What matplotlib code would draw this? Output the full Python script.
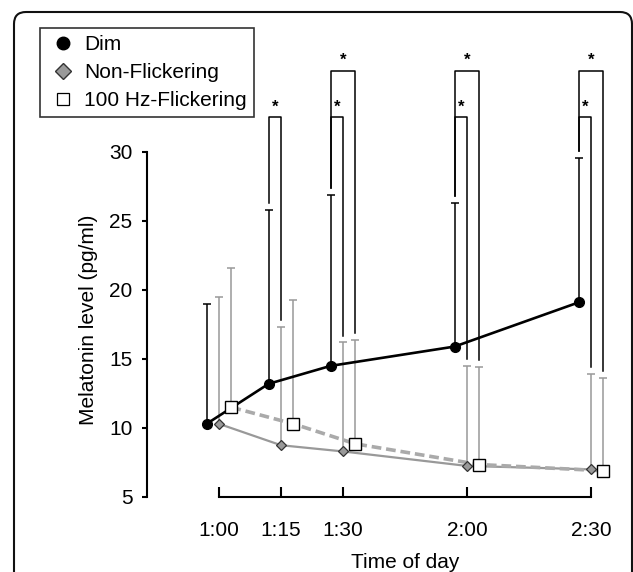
import numpy as np
import matplotlib.pyplot as plt
from matplotlib.lines import Line2D
from matplotlib.patches import FancyBboxPatch

plt.rcParams['font.family'] = ['Liberation Sans', 'DejaVu Sans']
plt.rcParams['lines.scale_dashes'] = False

# minutes after 1:00
times = [0, 15, 30, 60, 90]
time_labels = ['1:00', '1:15', '1:30', '2:00', '2:30']

dim = [10.3, 13.2, 14.5, 15.9, 19.1]
dim_err_top = [19.0, 25.8, 26.9, 26.3, 29.6]
nonflicker = [10.3, 8.75, 8.3, 7.25, 7.0]
nonflicker_err_top = [19.5, 17.3, 16.2, 14.5, 13.9]
flicker = [11.5, 10.3, 8.85, 7.35, 6.9]
flicker_err_top = [21.6, 19.3, 16.4, 14.4, 13.6]

# significance: Dim vs Non-Flickering (inner), Dim vs 100 Hz (outer)
sig_inner = [1, 2, 3, 4]
sig_outer = [2, 3, 4]
inner_level = 32.5
outer_level = 35.9

shift = 3  # horizontal offset of the groups (minutes)
t = np.array(times, dtype=float)
x_dim = t - shift
x_nf = t
x_hz = t + shift

fig = plt.figure(figsize=(6.33, 5.72), dpi=100)
ax = fig.add_axes([0.2154, 0.0829, 0.7705, 0.8444])

def upper_err(x, y, top, color, lw):
    y = np.array(y)
    top = np.array(top)
    ax.errorbar(x, y, yerr=[np.zeros_like(y), top - y], fmt='none',
                ecolor=color, elinewidth=lw, capsize=3, capthick=lw, zorder=1)

upper_err(x_dim, dim, dim_err_top, 'black', 1.1)
upper_err(x_nf, nonflicker, nonflicker_err_top, '#999999', 1.1)
upper_err(x_hz, flicker, flicker_err_top, '#999999', 1.1)

ax.plot(x_nf, nonflicker, color='#999999', lw=1.6, zorder=2)
ax.plot(x_hz, flicker, color='#aaaaaa', lw=2.6, dashes=(7, 3.5), zorder=3)
ax.plot(x_dim, dim, color='black', lw=1.9, zorder=4)

ax.plot(x_nf, nonflicker, ls='none', marker='D', ms=5.5, mfc='#999999',
        mec='#333333', mew=0.9, zorder=5)
ax.plot(x_dim, dim, ls='none', marker='o', ms=7, mfc='black', mec='black', zorder=5)
ax.plot(x_hz, flicker, ls='none', marker='s', ms=8, mfc='white',
        mec='black', mew=1.0, zorder=6)

# brackets
gap = 0.5
for i in sig_inner:
    x1, x2 = x_dim[i], x_nf[i]
    ax.plot([x1, x1, x2, x2],
            [dim_err_top[i] + gap, inner_level, inner_level, nonflicker_err_top[i] + gap],
            color='black', lw=1.1, zorder=1)
    ax.text((x1 + x2) / 2, inner_level + 0.75, '*', ha='center', va='center',
            fontsize=12, fontweight='bold')
for i in sig_outer:
    x1, x2 = x_dim[i], x_hz[i]
    ax.plot([x1, x1, x2, x2],
            [dim_err_top[i] + gap, outer_level, outer_level, flicker_err_top[i] + gap],
            color='black', lw=1.1, zorder=1)
    ax.text((x1 + x2) / 2, outer_level + 0.75, '*', ha='center', va='center',
            fontsize=12, fontweight='bold')

ax.set_xlim(-20, 98)
ax.set_ylim(3, 38)
for s in ['top', 'right']:
    ax.spines[s].set_visible(False)
ax.spines['left'].set_position(('data', -17.4))
ax.spines['left'].set_bounds(5, 30)
ax.spines['bottom'].set_position(('data', 5))
ax.spines['bottom'].set_bounds(0, 90)
for s in ['left', 'bottom']:
    ax.spines[s].set_linewidth(1.5)
ax.set_yticks([5, 10, 15, 20, 25, 30])
ax.set_xticks(times)
ax.set_xticklabels(time_labels)
ax.tick_params(axis='y', direction='out', length=3.6, width=1.5, pad=7, labelsize=15)
ax.tick_params(axis='x', direction='in', length=7.2, width=1.5, pad=17, labelsize=15)
ax.set_ylabel('Melatonin level (pg/ml)', fontsize=15)
ax.yaxis.set_label_coords(-0.078, 0.424)
ax.set_xlabel('Time of day', fontsize=15)
ax.xaxis.set_label_coords(0.551, -0.058)

handles = [
    Line2D([], [], ls='none', marker='o', ms=9, mfc='black', mec='black'),
    Line2D([], [], ls='none', marker='D', ms=8, mfc='#999999', mec='#333333', mew=1),
    Line2D([], [], ls='none', marker='s', ms=8.5, mfc='white', mec='black', mew=0.9),
]
leg = fig.legend(handles, ['Dim', 'Non-Flickering', '100 Hz-Flickering'],
                 loc='upper left', bbox_to_anchor=(40 / 633, 1 - 28 / 572),
                 fontsize=15, frameon=True, fancybox=False, edgecolor='black',
                 borderpad=0.35, labelspacing=0.42, handletextpad=0.25,
                 handlelength=1.5, borderaxespad=0)
leg.get_frame().set_linewidth(1.2)

border = FancyBboxPatch((0.14, -0.3), 6.18, 5.9, boxstyle='round,pad=0,rounding_size=0.12',
                        transform=fig.dpi_scale_trans, fill=False, edgecolor='#111111',
                        lw=1.5, clip_on=False)
fig.patches.append(border)

fig.savefig('out.png', dpi=100)
